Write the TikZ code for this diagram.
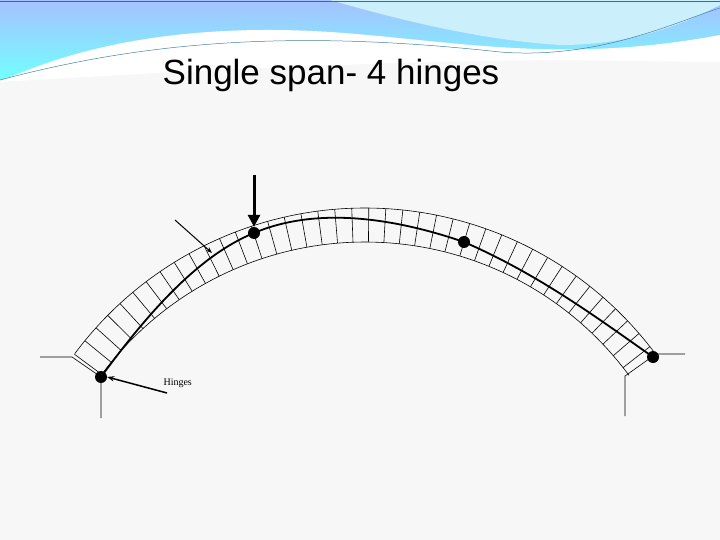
\documentclass[tikz,border=0pt]{standalone}
\usepackage{fontspec}
\setmainfont{Liberation Sans}
\newfontfamily\serifx{Liberation Serif}
\usetikzlibrary{arrows.meta}
\begin{document}
\begin{tikzpicture}[x=1pt,y=-1pt,
  thin line/.style={line width=0.6pt},
  thrust/.style={line width=1.8pt},
  hinge/.style={circle,fill=black,inner sep=0pt,minimum size=12pt}]
\useasboundingbox (0,0) rectangle (720,540);
\fill[gray!6] (0,0) rectangle (720,540);
% banner
\shade[top color=cyan!30!blue!35,bottom color=cyan!55] (0,0) -- (720,0) -- (720,45) .. controls (600,62) and (500,50) .. (400,42) .. controls (250,30) and (150,30) .. (0,80) -- cycle;
\fill[white] (0,82) .. controls (100,35) and (220,25) .. (330,32) .. controls (450,40) and (560,65) .. (720,35) -- (720,62) .. controls (600,62) and (500,52) .. (0,82) -- cycle;
\fill[cyan!20] (330,0) .. controls (400,20) and (480,40) .. (560,45) .. controls (640,45) and (690,20) .. (720,5) -- (720,0) -- cycle;
\draw[cyan!60!black,line width=0.5pt] (0,80) .. controls (150,40) and (300,30) .. (500,52) .. controls (600,60) and (680,20) .. (720,8);
\draw[cyan!40!black,line width=0.5pt] (0,1) -- (720,1);
\node[font=\fontsize{35}{38}\selectfont,anchor=base] (title) at (331,85) {Single span- 4 hinges};
% arch
\draw[thin line] ({365+362*cos(143.3)},{570-362*sin(143.3)}) arc[start angle=-143.3,end angle=-36.7,radius=362];
\draw[thin line] ({365+328*cos(143.6)},{570-328*sin(143.6)}) arc[start angle=-143.6,end angle=-36.4,radius=328];
\foreach \a in {143.4,140.7,...,36} {
  \draw[thin line] ({365+328*cos(\a)},{570-328*sin(\a)}) -- ({365+362*cos(\a)},{570-362*sin(\a)});
}
% supports
\draw[thin line] (40,357) -- (72,357) -- (101,377) -- (101,418);
\draw[thin line] (685,354) -- (656,354) -- (625,376) -- (625,416);
% hinges
\node[hinge] (h1) at (101,377) {};
\node[hinge] (h2) at (254,233) {};
\node[hinge] (h3) at (464,242) {};
\node[hinge] (h4) at (653,357) {};
\draw[thrust] (h1.center) .. controls (150,310) and (200,255) .. (h2.center);
\draw[thrust] (h2.center) .. controls (320,205) and (400,220) .. (h3.center);
\draw[thrust] (h3.center) .. controls (540,275) and (600,320) .. (h4.center);
% load
\coordinate (lt) at (254,175);
\draw[line width=3pt,-{Triangle[length=12pt,width=12pt]}] (lt) -- (h2.north);
\coordinate (pa) at (175,220);
\coordinate (pb) at (212,253);
\draw[line width=1pt,-{Stealth[length=6pt]}] (pa) -- (pb);
\node[font=\serifx\fontsize{10}{12}\selectfont,anchor=west] (lab) at (160,383) {Hinges};
\coordinate (la) at (167,393);
\draw[line width=1.5pt,-{Stealth[length=7pt]}] (la) -- (h1.east);
\end{tikzpicture}
\end{document}
